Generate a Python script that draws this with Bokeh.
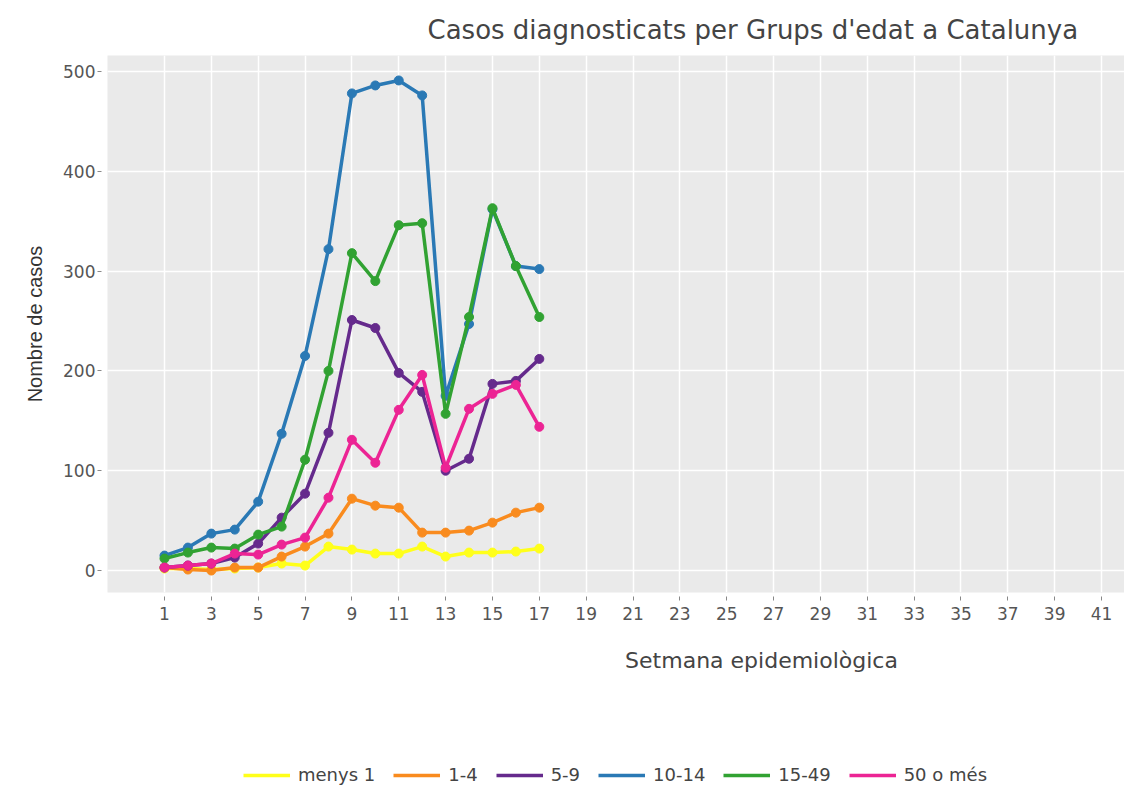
from bokeh.plotting import figure
from bokeh.layouts import column
from bokeh.models import (Range1d, FixedTicker, Legend, LegendItem, Label)
from bokeh.embed import file_html
from bokeh.resources import INLINE

weeks = list(range(1, 18))
series_names = ["menys 1", "1-4", "5-9", "10-14", "15-49", "50 o més"]
menys1 = [2, 2, 1, 2, 3, 7, 5, 24, 21, 17, 17, 24, 14, 18, 18, 19, 22]
a1_4 = [3, 1, 0, 3, 3, 14, 24, 37, 72, 65, 63, 38, 38, 40, 48, 58, 63]
a5_9 = [3, 5, 7, 13, 27, 53, 77, 138, 251, 243, 198, 179, 100, 112, 187, 190, 212]
a10_14 = [15, 23, 37, 41, 69, 137, 215, 322, 478, 486, 491, 476, 175, 247, 362, 305, 302]
a15_49 = [12, 18, 23, 22, 36, 44, 111, 200, 318, 290, 346, 348, 157, 254, 363, 305, 254]
a50 = [3, 5, 7, 17, 16, 26, 33, 73, 131, 108, 161, 196, 103, 162, 177, 186, 144]
series_values = [menys1, a1_4, a5_9, a10_14, a15_49, a50]
colors = ["#FFFF1A", "#F98B1E", "#652A8C", "#2A79B5", "#31A232", "#EC2494"]
x_ticks = list(range(1, 42, 2))
y_ticks = [0, 100, 200, 300, 400, 500]

title_text = "Casos diagnosticats per Grups d'edat a Catalunya"
x_title = "Setmana epidemiològica"
y_title = "Nombre de casos"

# ---------------- main chart ----------------
p = figure(width=1124, height=635, output_backend="svg", toolbar_location=None,
           x_range=Range1d(-1.433, 41.98), y_range=Range1d(-22, 516),
           min_border_left=107, min_border_top=55, min_border_right=0,
           min_border_bottom=43)
p.outline_line_color = None
p.background_fill_color = "#EAEAEA"
p.border_fill_color = "white"

p.title.text = title_text
p.title.align = "left"
p.title.offset = 320
p.title.standoff = 22
p.title.text_font = "DejaVu Sans"
p.title.text_font_size = "26px"
p.title.text_font_style = "normal"
p.title.text_color = "#444444"

p.xgrid.ticker = FixedTicker(ticks=x_ticks)
p.ygrid.ticker = FixedTicker(ticks=y_ticks)
p.grid.grid_line_color = "white"
p.grid.grid_line_width = 1.5

for ax in (p.xaxis, p.yaxis):
    ax.axis_line_color = None
    ax.major_tick_line_color = "#888888"
    ax.minor_tick_line_color = None
    ax.major_label_text_font = "DejaVu Sans"
    ax.major_label_text_font_size = "17px"
    ax.major_label_text_color = "#555555"

p.xaxis.ticker = FixedTicker(ticks=x_ticks)
p.yaxis.ticker = FixedTicker(ticks=y_ticks)
p.xaxis.major_tick_in = -4
p.xaxis.major_tick_out = 8
p.xaxis.major_label_standoff = 6
p.yaxis.major_tick_in = -6
p.yaxis.major_tick_out = 10
p.yaxis.major_label_standoff = 2

p.yaxis.axis_label = y_title
p.yaxis.axis_label_text_font = "Liberation Sans"
p.yaxis.axis_label_text_font_size = "20px"
p.yaxis.axis_label_text_font_style = "normal"
p.yaxis.axis_label_text_color = "#333333"
p.yaxis.axis_label_standoff = 14

for name, vals, col in zip(series_names, series_values, colors):
    p.line(weeks, vals, line_color=col, line_width=3.5)
    p.scatter(weeks, vals, size=9, fill_color=col, line_color=col)

# ---------------- strip below: x title + legend ----------------
# (ranges chosen so that the legend-only renderers stay out of view)
p2 = figure(width=1124, height=150, output_backend="svg", toolbar_location=None,
            x_axis_type=None, y_axis_type=None,
            x_range=Range1d(-200, -100), y_range=Range1d(-2000, -1000),
            min_border_left=0, min_border_right=0, min_border_top=0,
            min_border_bottom=0)
p2.outline_line_color = None
p2.background_fill_color = "white"
p2.border_fill_color = "white"
p2.grid.visible = False

items = []
for name, vals, col in zip(series_names, series_values, colors):
    r = p2.line(weeks, vals, line_color=col, line_width=3.5)
    items.append(LegendItem(label=name, renderers=[r]))

p2.add_layout(Label(x=654, y=125, x_units="screen", y_units="screen", text=x_title,
                    text_font="DejaVu Sans", text_font_size="22px", text_color="#444444",
                    text_align="center", text_baseline="middle"))

legend = Legend(items=items, orientation="horizontal", location=(136, 0))
legend.label_text_font = "DejaVu Sans"
legend.label_text_font_size = "18px"
legend.label_text_color = "#444444"
legend.glyph_width = 47
legend.glyph_height = 18
legend.label_height = 18
legend.label_standoff = 8
legend.spacing = 18
legend.padding = 0
legend.margin = 0
legend.background_fill_alpha = 0
legend.border_line_color = None
p2.add_layout(legend, "center")

open("out.html", "w").write(file_html(column(p, p2, spacing=0), INLINE))
